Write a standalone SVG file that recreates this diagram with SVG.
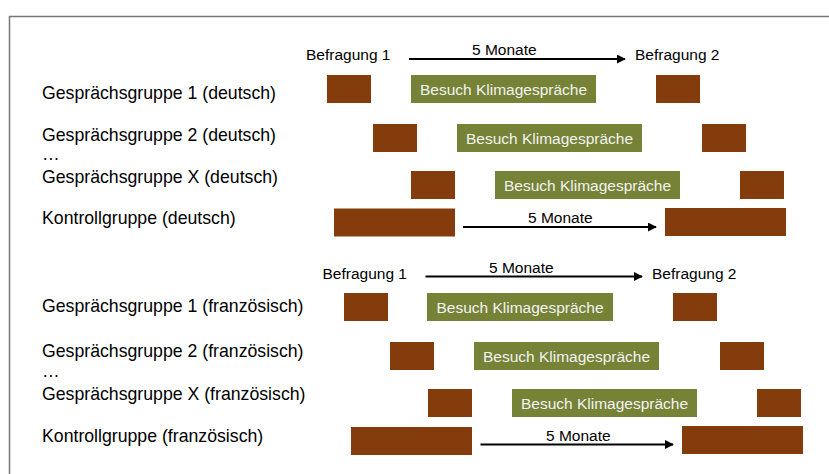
<svg xmlns="http://www.w3.org/2000/svg" width="829" height="474" viewBox="0 0 829 474">
<defs>
<marker id="ah" viewBox="0 0 10 10" refX="9" refY="5" markerWidth="4.5" markerHeight="4.5" orient="auto" markerUnits="strokeWidth">
<path d="M0,0 L10,5 L0,10 z" fill="#000"/>
</marker>
</defs>
<style>
text{font-family:"Liberation Sans",Arial,sans-serif;fill:#000}
.lbl{font-size:17.7px}
.t{font-size:15.5px}
.b{fill:#843C0C}
.g{fill:#768236}
.gt{font-size:15.5px;fill:#f2f2f2;text-anchor:middle}
.arr{stroke:#000;stroke-width:2;fill:none;marker-end:url(#ah)}
</style>
<rect width="829" height="474" fill="#fff"/>
<path d="M9.5,474 V16.5 H829" fill="none" stroke="#777" stroke-width="1.5"/>

<g id="header-de">
<text class="t" x="306" y="60">Befragung 1</text>
<text class="t" x="472" y="55">5 Monate</text>
<text class="t" x="635" y="60">Befragung 2</text>
</g>
<g id="de-1">
<text class="lbl" x="42" y="99">Gesprächsgruppe 1 (deutsch)</text>
<rect class="b" x="327" y="75" width="44" height="28"/>
<rect class="g" x="411" y="75" width="185" height="28"/>
<text class="gt" x="503.5" y="95">Besuch Klimagespräche</text>
<rect class="b" x="656" y="75" width="44" height="28"/>
</g>
<g id="de-2">
<text class="lbl" x="42" y="141">Gesprächsgruppe 2 (deutsch)</text>
<rect class="b" x="373" y="124" width="44" height="28"/>
<rect class="g" x="457" y="124" width="185" height="28"/>
<text class="gt" x="549.5" y="144">Besuch Klimagespräche</text>
<rect class="b" x="702" y="124" width="44" height="28"/>
</g>
<text class="lbl" x="42" y="160">…</text>
<g id="de-x">
<text class="lbl" x="42" y="182.5">Gesprächsgruppe X (deutsch)</text>
<rect class="b" x="411" y="171" width="44" height="28"/>
<rect class="g" x="495" y="171" width="185" height="28"/>
<text class="gt" x="587.5" y="191">Besuch Klimagespräche</text>
<rect class="b" x="740" y="171" width="44" height="28"/>
</g>
<g id="de-k">
<text class="lbl" x="42" y="224">Kontrollgruppe (deutsch)</text>
<rect class="b" x="334" y="208.5" width="121" height="28"/>
<text class="t" x="528" y="223">5 Monate</text>
<rect class="b" x="665" y="208" width="121" height="28"/>
</g>

<g id="header-fr">
<text class="t" x="322.5" y="278.5">Befragung 1</text>
<text class="t" x="489" y="273">5 Monate</text>
<text class="t" x="652" y="278.5">Befragung 2</text>
</g>
<g id="fr-1">
<text class="lbl" x="42" y="312">Gesprächsgruppe 1 (französisch)</text>
<rect class="b" x="344" y="293" width="44" height="28"/>
<rect class="g" x="427" y="293" width="186" height="28"/>
<text class="gt" x="520" y="313">Besuch Klimagespräche</text>
<rect class="b" x="673" y="293" width="44" height="28"/>
</g>
<g id="fr-2">
<text class="lbl" x="42" y="357">Gesprächsgruppe 2 (französisch)</text>
<rect class="b" x="390" y="342" width="44" height="28"/>
<rect class="g" x="474" y="342" width="185" height="28"/>
<text class="gt" x="566.5" y="362">Besuch Klimagespräche</text>
<rect class="b" x="720" y="342" width="44" height="28"/>
</g>
<text class="lbl" x="42" y="376.5">…</text>
<g id="fr-x">
<text class="lbl" x="42" y="399.5">Gesprächsgruppe X (französisch)</text>
<rect class="b" x="428" y="389" width="44" height="28"/>
<rect class="g" x="512" y="389" width="185" height="28"/>
<text class="gt" x="604.5" y="409">Besuch Klimagespräche</text>
<rect class="b" x="757" y="389" width="44" height="28"/>
</g>
<g id="fr-k">
<text class="lbl" x="42" y="442">Kontrollgruppe (französisch)</text>
<rect class="b" x="351" y="427" width="121" height="28"/>
<text class="t" x="546" y="441">5 Monate</text>
<rect class="b" x="682" y="426" width="121" height="28"/>
</g>

<g id="connectors">
<line class="arr" x1="409" y1="59" x2="625" y2="59"/>
<line class="arr" x1="463" y1="227" x2="656" y2="227"/>
<line class="arr" x1="425.5" y1="276.5" x2="642" y2="276.5"/>
<line class="arr" x1="480.5" y1="444.5" x2="673" y2="444.5"/>
</g>
</svg>
